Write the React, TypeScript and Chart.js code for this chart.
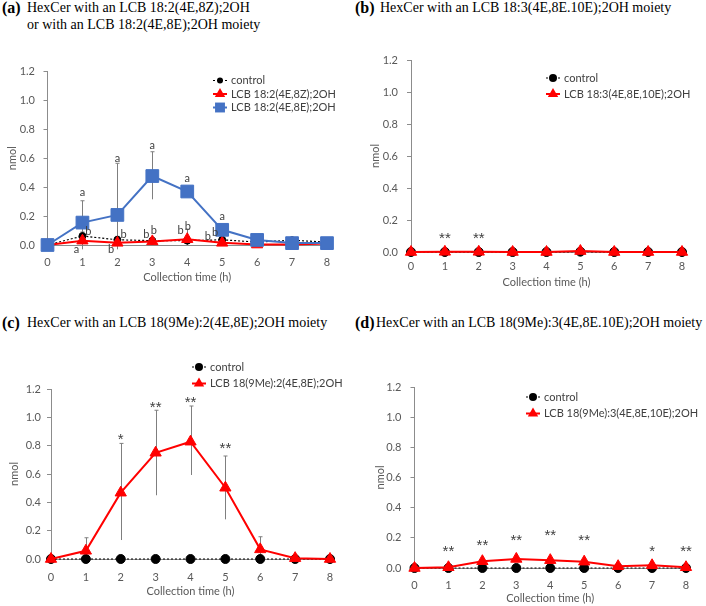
import React, { useEffect, useRef } from "react";
import { Chart, registerables } from "chart.js";

Chart.register(...registerables);

const W = 706;
const H = 606;
const SANS = "Lato, 'Liberation Sans', sans-serif";
const FS = 11;
const AXIS = "#8c8c8c";
const TICK = "#595959";
const RED = "#ff0000";
const BLUE = "#4472c4";

const hours = [0, 1, 2, 3, 4, 5, 6, 7, 8];
const yMin = 0;
const yMax = 1.2;
const yStep = 0.2;
const xTitle = "Collection time (h)";
const yTitle = "nmol";

// ---- panel (a)
const aNames = ["control", "LCB 18:2(4E,8Z);2OH", "LCB 18:2(4E,8E);2OH"];
const aControl = [0, 0.062, 0.036, 0.03, 0.03, 0.036, 0.02, 0.033, 0.02];
const a8Z = [0, 0.03, 0.015, 0.025, 0.04, 0.015, 0.003, 0.004, 0.01];
const a8E = [0, 0.155, 0.208, 0.477, 0.37, 0.105, 0.035, 0.013, 0.013];
const a8ELow = [null, 0.0, -0.02, 0.316, 0.35, 0.09, null, null, null];
const a8EHigh = [null, 0.306, 0.565, 0.645, 0.39, 0.12, null, null, null];
const a8ZLow = [null, -0.03, -0.03, null, 0.0, null, null, null, null];
const a8ZHigh = [null, 0.09, 0.06, null, 0.11, null, null, null, null];
const aNoteText = ["a", "a", "a", "a", "a", "b", "a", "b", "b", "b", "b", "b", "b", "b", "b"];
const aNoteX = [1, 2, 3, 4, 5, 1.17, 0.83, 2.18, 1.82, 2.83, 3.04, 3.81, 4.02, 4.59, 4.8];
const aNoteY = [0.36, 0.6, 0.69, 0.46, 0.2, 0.092, -0.028, 0.076, -0.03, 0.07, 0.1, 0.1, 0.13, 0.06, 0.09];

// ---- panel (b)
const bNames = ["control", "LCB 18:3(4E,8E,10E);2OH"];
const bControl = [0, 0, 0, 0, 0, 0.002, 0, 0, 0];
const bTriene = [0, 0.001, 0.001, 0, 0, 0.006, 0, 0, 0];
const bNoteText = ["**", "**"];
const bNoteX = [1, 2];
const bNoteY = [0.105, 0.105];

// ---- panel (c)
const cNames = ["control", "LCB 18(9Me):2(4E,8E);2OH"];
const cControl = [0, 0, 0, 0, 0, 0, 0, 0, 0];
const cMe = [0, 0.058, 0.468, 0.75, 0.828, 0.503, 0.068, 0.006, 0];
const cLow = [null, 0.0, 0.134, 0.45, 0.593, 0.28, 0.0, null, null];
const cHigh = [null, 0.15, 0.816, 1.05, 1.08, 0.727, 0.157, null, null];
const cNoteText = ["*", "**", "**", "**"];
const cNoteX = [2, 3, 4, 5];
const cNoteY = [0.863, 1.094, 1.127, 0.804];

// ---- panel (d)
const dNames = ["control", "LCB 18(9Me):3(4E,8E,10E);2OH"];
const dControl = [0, 0, 0, 0, 0, 0, 0, 0, 0];
const dMe = [0, 0.005, 0.045, 0.06, 0.052, 0.042, 0.012, 0.018, 0.005];
const dNoteText = ["**", "**", "**", "**", "**", "*", "**"];
const dNoteX = [1, 2, 3, 4, 5, 7, 8];
const dNoteY = [0.133, 0.167, 0.2, 0.233, 0.2, 0.133, 0.133];

type Series = {
  label: string;
  values: number[];
  style: "control" | "red" | "blue";
  radius: number;
  keyRadius: number;
  low?: (number | null)[];
  high?: (number | null)[];
};

type PanelSpec = {
  area: { left: number; right: number; top: number; bottom: number };
  yTitleX: number;
  xTitleY: number;
  xTickY: number;
  yGap: number;
  key: { x: number; y: number; rowH: number };
  series: Series[];
  notes: { text: string[]; x: number[]; y: number[] };
};

const panels: PanelSpec[] = [
  {
    area: { left: 47.5, right: 327, top: 71.5, bottom: 245 },
    yTitleX: 12,
    xTitleY: 277,
    xTickY: 262,
    yGap: 12.5,
    key: { x: 213, y: 80.5, rowH: 13.5 },
    series: [
      { label: aNames[0], values: aControl, style: "control", radius: 3.5, keyRadius: 3 },
      { label: aNames[1], values: a8Z, style: "red", radius: 6.5, keyRadius: 6, low: a8ZLow, high: a8ZHigh },
      { label: aNames[2], values: a8E, style: "blue", radius: 9, keyRadius: 7, low: a8ELow, high: a8EHigh },
    ],
    notes: { text: aNoteText, x: aNoteX, y: aNoteY },
  },
  {
    area: { left: 411, right: 682, top: 60, bottom: 252 },
    yTitleX: 375,
    xTitleY: 282,
    xTickY: 266,
    yGap: 13,
    key: { x: 546, y: 78, rowH: 16 },
    series: [
      { label: bNames[0], values: bControl, style: "control", radius: 4.5, keyRadius: 4 },
      { label: bNames[1], values: bTriene, style: "red", radius: 6.5, keyRadius: 6 },
    ],
    notes: { text: bNoteText, x: bNoteX, y: bNoteY },
  },
  {
    area: { left: 51, right: 330, top: 389, bottom: 559 },
    yTitleX: 14,
    xTitleY: 591,
    xTickY: 577,
    yGap: 10,
    key: { x: 192, y: 367, rowH: 16.5 },
    series: [
      { label: cNames[0], values: cControl, style: "control", radius: 4.5, keyRadius: 4 },
      { label: cNames[1], values: cMe, style: "red", radius: 6.5, keyRadius: 6, low: cLow, high: cHigh },
    ],
    notes: { text: cNoteText, x: cNoteX, y: cNoteY },
  },
  {
    area: { left: 414.5, right: 686, top: 387, bottom: 568 },
    yTitleX: 380,
    xTitleY: 598,
    xTickY: 585,
    yGap: 13,
    key: { x: 526, y: 397, rowH: 16.5 },
    series: [
      { label: dNames[0], values: dControl, style: "control", radius: 4.5, keyRadius: 4 },
      { label: dNames[1], values: dMe, style: "red", radius: 6.5, keyRadius: 6 },
    ],
    notes: { text: dNoteText, x: dNoteX, y: dNoteY },
  },
];

const titles = [
  { text: "(a)", left: 2, cy: 8, bold: true },
  { text: "HexCer with an LCB 18:2(4E,8Z);2OH", left: 27, cy: 8 },
  { text: "or with an LCB 18:2(4E,8E);2OH moiety", left: 27, cy: 25 },
  { text: "(b)", left: 355, cy: 8, bold: true },
  { text: "HexCer with an LCB 18:3(4E,8E.10E);2OH moiety", left: 380, cy: 8 },
  { text: "(c)", left: 2, cy: 323, bold: true },
  { text: "HexCer with an LCB 18(9Me):2(4E,8E);2OH moiety", left: 27, cy: 323 },
  { text: "(d)", left: 355, cy: 323, bold: true },
  { text: "HexCer with an LCB 18(9Me):3(4E,8E.10E);2OH moiety", left: 376, cy: 323 },
];

function styleOf(s: Series) {
  if (s.style === "control") return { color: "#000000", width: 1.2, dash: [2, 2], point: "circle", order: 2 };
  if (s.style === "red") return { color: RED, width: 2, dash: [], point: "triangle", order: 1 };
  return { color: BLUE, width: 2, dash: [], point: "rect", order: 0 };
}

function drawMarker(ctx: CanvasRenderingContext2D, kind: string, x: number, y: number, r: number, color: string) {
  ctx.fillStyle = color;
  ctx.beginPath();
  if (kind === "circle") {
    ctx.arc(x, y, r, 0, Math.PI * 2);
  } else if (kind === "rect") {
    const s = r * Math.SQRT1_2;
    ctx.rect(x - s, y - s, 2 * s, 2 * s);
  } else {
    ctx.moveTo(x, y - r);
    ctx.lineTo(x + r * 0.866, y + r * 0.5);
    ctx.lineTo(x - r * 0.866, y + r * 0.5);
    ctx.closePath();
  }
  ctx.fill();
}

function makeConfig(p: PanelSpec): any {
  const half = (FS * 1.2) / 2;
  const padLeft = p.yTitleX - half;
  const yW = p.area.left - padLeft;
  const xH = p.xTitleY + half - p.area.bottom;
  const padBottom = H - p.area.bottom - xH;
  const font = { family: SANS, size: FS };

  const errorBars = {
    id: "errorBars",
    beforeDatasetsDraw(chart: any) {
      const ctx = chart.ctx;
      const xs = chart.scales.x;
      const ys = chart.scales.y;
      ctx.save();
      ctx.strokeStyle = "#7f7f7f";
      ctx.lineWidth = 1;
      p.series.forEach((s) => {
        if (!s.low || !s.high) return;
        hours.forEach((h, i) => {
          const lo = s.low![i];
          const hi = s.high![i];
          if (lo === null || hi === null) return;
          const px = Math.round(xs.getPixelForValue(h)) + 0.5;
          const y1 = ys.getPixelForValue(lo);
          const y2 = ys.getPixelForValue(hi);
          ctx.beginPath();
          ctx.moveTo(px, y1);
          ctx.lineTo(px, y2);
          ctx.moveTo(px - 2, y2);
          ctx.lineTo(px + 2, y2);
          ctx.stroke();
        });
      });
      ctx.restore();
    },
  };

  const notes = {
    id: "notes",
    afterDatasetsDraw(chart: any) {
      const ctx = chart.ctx;
      const xs = chart.scales.x;
      const ys = chart.scales.y;
      ctx.save();
      ctx.fillStyle = "#404040";
      ctx.textAlign = "center";
      ctx.textBaseline = "middle";
      p.notes.text.forEach((t, i) => {
        const isStar = t.indexOf("*") >= 0;
        ctx.font = isStar ? `15px 'Liberation Sans', sans-serif` : `${FS}px ${SANS}`;
        const dy = isStar ? 3.5 : 0;
        ctx.fillText(t, xs.getPixelForValue(p.notes.x[i]), ys.getPixelForValue(p.notes.y[i]) + dy);
      });
      ctx.restore();
    },
  };

  const seriesKey = {
    id: "seriesKey",
    afterDraw(chart: any) {
      const ctx = chart.ctx;
      const lineW = 14;
      ctx.save();
      p.series.forEach((s, i) => {
        const st = styleOf(s);
        const y = p.key.y + i * p.key.rowH;
        ctx.strokeStyle = st.color;
        ctx.lineWidth = st.width;
        ctx.setLineDash(st.dash);
        ctx.beginPath();
        ctx.moveTo(p.key.x, y);
        ctx.lineTo(p.key.x + lineW, y);
        ctx.stroke();
        ctx.setLineDash([]);
        drawMarker(ctx, st.point, p.key.x + lineW / 2, y, s.keyRadius, st.color);
        ctx.fillStyle = "#404040";
        ctx.font = `${FS}px ${SANS}`;
        ctx.textAlign = "left";
        ctx.textBaseline = "middle";
        ctx.fillText(s.label, p.key.x + lineW + 4, y);
      });
      ctx.restore();
    },
  };

  return {
    type: "line",
    data: {
      datasets: p.series.map((s) => {
        const st = styleOf(s);
        return {
          label: s.label,
          data: hours.map((h, i) => ({ x: h, y: s.values[i] })),
          borderColor: st.color,
          backgroundColor: st.color,
          borderWidth: st.width,
          borderDash: st.dash,
          pointStyle: st.point,
          pointRadius: s.radius,
          pointBorderWidth: 1,
          pointBorderColor: st.color,
          pointBackgroundColor: st.color,
          tension: 0,
          order: st.order,
          clip: false,
        };
      }),
    },
    options: {
      responsive: false,
      animation: false,
      devicePixelRatio: 1,
      events: [],
      layout: {
        padding: { left: padLeft, right: W - p.area.right, top: p.area.top, bottom: padBottom },
      },
      plugins: { legend: { display: false }, tooltip: { enabled: false } },
      scales: {
        x: {
          type: "linear",
          min: 0,
          max: 8,
          ticks: { stepSize: 1, padding: p.xTickY - p.area.bottom - half, color: TICK, font },
          grid: { display: false, drawTicks: false },
          border: { display: true, color: AXIS, width: 1 },
          title: { display: true, text: xTitle, padding: 0, color: TICK, font },
          afterFit: (s: any) => {
            s.height = xH;
          },
        },
        y: {
          type: "linear",
          min: yMin,
          max: yMax,
          ticks: {
            stepSize: yStep,
            padding: p.yGap - 4,
            color: TICK,
            font,
            callback: (v: number) => Number(v).toFixed(1),
          },
          grid: { drawOnChartArea: false, drawTicks: true, tickLength: 4, color: AXIS },
          border: { display: true, color: AXIS, width: 1 },
          title: { display: true, text: yTitle, padding: 0, color: TICK, font },
          afterFit: (s: any) => {
            s.width = yW;
          },
        },
      },
    },
    plugins: [errorBars, notes, seriesKey],
  };
}

function Panel({ spec }: { spec: PanelSpec }) {
  const ref = useRef<HTMLCanvasElement>(null);
  useEffect(() => {
    const chart = new Chart(ref.current as HTMLCanvasElement, makeConfig(spec));
    return () => chart.destroy();
  }, [spec]);
  return (
    <canvas
      ref={ref}
      width={W}
      height={H}
      style={{ position: "absolute", left: 0, top: 0, width: W, height: H }}
    />
  );
}

export default function App() {
  return (
    <div style={{ position: "absolute", left: 0, top: 0, width: W, height: H, background: "#fff", overflow: "hidden" }}>
      {titles.map((t, i) => (
        <div
          key={i}
          style={{
            position: "absolute",
            left: t.left,
            top: t.cy - 9,
            height: 18,
            lineHeight: "18px",
            whiteSpace: "nowrap",
            fontFamily: "'Liberation Serif', 'Times New Roman', serif",
            fontSize: t.bold ? 16 : 14,
            fontWeight: t.bold ? 700 : 400,
            color: "#000",
          }}
        >
          {t.text}
        </div>
      ))}
      {panels.map((p, i) => (
        <Panel key={i} spec={p} />
      ))}
    </div>
  );
}
